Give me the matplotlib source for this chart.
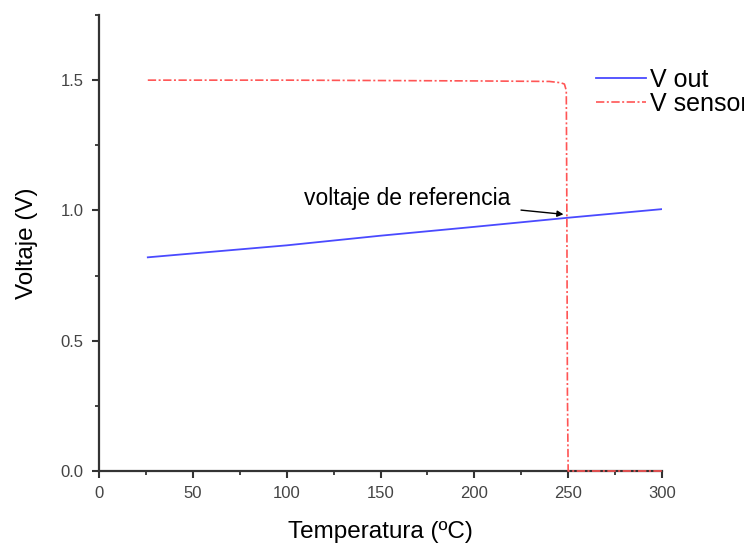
import matplotlib
matplotlib.use("Agg")
from matplotlib import pyplot as plt
from matplotlib.ticker import MultipleLocator

plt.rcParams['font.family'] = ['Liberation Sans', 'DejaVu Sans']

# V out (blue), almost straight
vout_temp = [26, 50, 100, 150, 200, 250, 300]
vout_volt = [0.82, 0.835, 0.866, 0.903, 0.937, 0.972, 1.005]

# V sensor (red), flat then falls at ~250 C
vsens_temp = [26, 100, 200, 240, 246, 248, 249, 249.3, 249.6, 250, 260, 300]
vsens_volt = [1.5, 1.5, 1.497, 1.495, 1.49, 1.485, 1.46, 1.0, 0.3, 0.0, 0.0, 0.0]

fig = plt.figure(figsize=(7.44, 5.44), dpi=100)
ax = fig.add_axes([99/744, 73/544, 563/744, 456/544])

ax.plot(vout_temp, vout_volt, color='#4a4aff', lw=1.3, label='V out')
ax.plot(vsens_temp, vsens_volt, color='#ff5555', lw=1.2,
        dashes=(5, 1.5, 1.2, 1.5), label='V sensor', clip_on=False, zorder=5)

ax.set_xlim(0, 300)
ax.set_ylim(0, 1.75)
ax.xaxis.set_major_locator(MultipleLocator(50))
ax.xaxis.set_minor_locator(MultipleLocator(25))
ax.yaxis.set_major_locator(MultipleLocator(0.5))
ax.yaxis.set_minor_locator(MultipleLocator(0.25))
ax.yaxis.set_major_formatter(matplotlib.ticker.FormatStrFormatter('%.1f'))

for s in ['top', 'right']:
    ax.spines[s].set_visible(False)
for s in ['left', 'bottom']:
    ax.spines[s].set_linewidth(1.6)
    ax.spines[s].set_color('#333333')

ax.tick_params(which='major', direction='out', length=5, width=1.5, pad=6,
               colors='#333333', labelsize=12, labelcolor='#444444')
ax.tick_params(which='minor', direction='out', length=3, width=1.3, colors='#333333')

ax.set_xlabel('Temperatura (ºC)', fontsize=17.5, labelpad=14)
ax.set_ylabel('Voltaje (V)', fontsize=17.5, labelpad=16)

ax.annotate('voltaje de referencia', xy=(247.5, 0.985), xytext=(109, 1.045),
            fontsize=16.5, va='center', ha='left',
            arrowprops=dict(arrowstyle='-|>', color='black', lw=1.0,
                            shrinkA=6, shrinkB=0, mutation_scale=9))

# legend sits past the axes edge like the original, "V sensor" runs off the figure
fig.legend(loc='upper left', bbox_to_anchor=(596/744, (544-68)/544),
           frameon=False, fontsize=18, handlelength=2.0, handletextpad=0.15,
           borderpad=0, borderaxespad=0, labelspacing=0.0)

fig.savefig('out.png', dpi=100)
